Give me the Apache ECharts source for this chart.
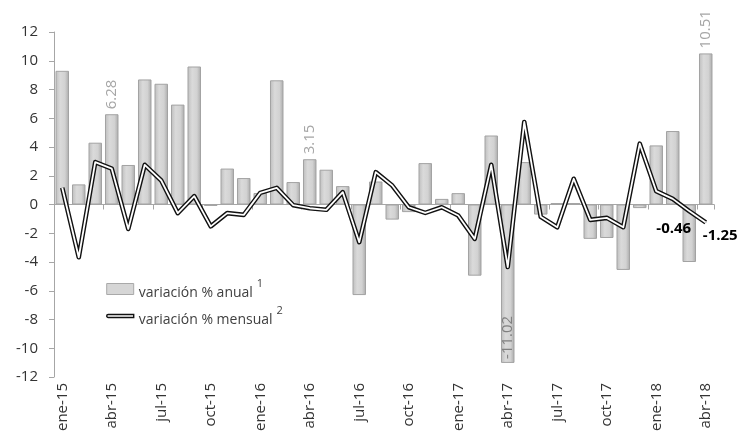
<!DOCTYPE html>
<html>
<head>
<meta charset="utf-8">
<script src="https://cdn.jsdelivr.net/npm/echarts@6/dist/echarts.min.js"></script>
<style>html,body{margin:0;padding:0;background:#fff}#c{width:747px;height:435px}</style>
</head>
<body>
<div id="c"></div>
<script>
var categories = ['ene-15','feb-15','mar-15','abr-15','may-15','jun-15','jul-15','ago-15','sep-15','oct-15','nov-15','dic-15',
  'ene-16','feb-16','mar-16','abr-16','may-16','jun-16','jul-16','ago-16','sep-16','oct-16','nov-16','dic-16',
  'ene-17','feb-17','mar-17','abr-17','may-17','jun-17','jul-17','ago-17','sep-17','oct-17','nov-17','dic-17',
  'ene-18','feb-18','mar-18','abr-18'];
var anual = [9.3,1.4,4.3,6.28,2.75,8.7,8.4,6.95,9.6,-0.1,2.5,1.84,
  0.8,8.64,1.56,3.15,2.42,1.28,-6.3,1.6,-1.05,-0.53,2.88,0.39,
  0.79,-4.95,4.8,-11.02,2.95,-0.7,0.1,0.1,-2.39,-2.33,-4.55,-0.25,
  4.11,5.11,-4.0,10.51];
var mensual = [1.16,-3.67,2.95,2.49,-1.70,2.76,1.67,-0.60,0.58,-1.52,-0.6,-0.72,
  0.81,1.16,-0.05,-0.26,-0.37,0.86,-2.62,2.25,1.32,-0.19,-0.58,-0.19,
  -0.77,-2.39,2.76,-4.35,5.74,-0.86,-1.58,1.79,-1.07,-0.93,-1.58,4.23,
  0.93,0.39,-0.46,-1.25];
var anualLabeled = [3, 15, 27, 39];
var mensualLabeled = {38: [-15, 18], 39: [15, 14]};
var yTicks = {min: -12, max: 12, interval: 2};

var FONT = 'Open Sans';
var barGrad = new echarts.graphic.LinearGradient(0,0,1,0,[
  {offset:0,color:'#bdbdbd'},{offset:0.35,color:'#dadada'},{offset:0.7,color:'#d2d2d2'},{offset:1,color:'#a9a9a9'}]);

var barData = anual.map(function(v,i){
  var d = {value: v};
  if (anualLabeled.indexOf(i) >= 0) {
    d.label = {show: true, rotate: 90, align: 'left', verticalAlign: 'middle',
      position: v < 0 ? 'insideBottom' : 'top', distance: v < 0 ? 4 : 5,
      formatter: function(p){ return p.value.toFixed(2); },
      color: v < 0 ? '#808080' : '#a6a6a6', fontSize: 15, fontFamily: FONT};
  }
  return d;
});
var lineData = mensual.map(function(v,i){
  var d = {value: v};
  if (mensualLabeled[i]) {
    d.symbol = 'circle';
    d.symbolSize = 1;
    d.label = {show: true, position: mensualLabeled[i], align: 'center', verticalAlign: 'middle',
      formatter: function(p){ return p.value.toFixed(2); },
      color: '#000', fontSize: 15, fontWeight: 'bold', fontFamily: FONT};
  }
  return d;
});

var chart = echarts.init(document.getElementById('c'), null, {renderer: 'canvas'});
chart.setOption({
  animation: false,
  textStyle: {fontFamily: FONT},
  grid: {left: 54, right: 33, top: 32, bottom: 58},
  legend: {
    orient: 'vertical', left: 106, top: 278, itemGap: 5, padding: 0,
    itemWidth: 27, itemHeight: 11,
    textStyle: {fontSize: 14, color: '#404040', fontFamily: FONT,
      rich: {
        t: {fontSize: 14, color: '#404040', fontFamily: FONT, verticalAlign: 'bottom'},
        s: {fontSize: 11, color: '#404040', fontFamily: FONT, verticalAlign: 'bottom', padding: [0,0,11,4]}
      }},
    formatter: function(n){ return '{t|' + n + '}{s|' + (n.indexOf('anual') >= 0 ? '1' : '2') + '}'; },
    data: [
      {name: 'variación % anual', icon: 'rect', itemStyle: {color: '#d6d6d6', borderColor: '#a9a9a9', borderWidth: 1}},
      {name: 'variación % mensual', icon: 'path://M0,0L0,0M1.5,4L27,4L27,7L1.5,7A1.5,1.5,0,0,1,1.5,4ZM0,11L0,11',
        itemStyle: {color: '#fff', borderColor: '#111', borderWidth: 1.4}}
    ]
  },
  xAxis: [{
    type: 'category', data: categories, position: 'bottom',
    axisLine: {onZero: true, lineStyle: {color: '#a6a6a6', width: 1}},
    axisTick: {show: true, interval: 2, length: 5, lineStyle: {color: '#a6a6a6'}},
    axisLabel: {show: false}
  }, {
    type: 'category', data: categories, position: 'bottom',
    axisLine: {show: false, onZero: false},
    axisTick: {show: false},
    axisLabel: {show: true, interval: 2, rotate: 90, margin: 6, fontSize: 15, color: '#333', fontFamily: FONT}
  }],
  yAxis: {
    type: 'value', min: yTicks.min, max: yTicks.max, interval: yTicks.interval,
    splitLine: {show: false},
    axisLine: {show: true, lineStyle: {color: '#a6a6a6'}},
    axisTick: {show: true, length: 5, lineStyle: {color: '#a6a6a6'}},
    axisLabel: {fontSize: 15, color: '#333', margin: 16, fontFamily: FONT}
  },
  series: [{
    name: 'variación % anual', type: 'bar', data: barData, xAxisIndex: 0,
    barCategoryGap: '18%',
    itemStyle: {color: barGrad, borderColor: '#a3a3a3', borderWidth: 1}
  }, {
    name: 'variación % mensual', type: 'line', data: lineData, xAxisIndex: 0,
    symbol: 'none', showSymbol: true, smooth: false,
    itemStyle: {color: '#111'},
    lineStyle: {color: '#111', width: 4.6, join: 'round'},
    labelLayout: {hideOverlap: false},
    z: 3
  }, {
    name: 'inner', type: 'line', data: mensual, xAxisIndex: 0,
    symbol: 'none', silent: true,
    lineStyle: {color: '#fff', width: 1.8, join: 'round'},
    z: 4
  }]
});
</script>
</body>
</html>
